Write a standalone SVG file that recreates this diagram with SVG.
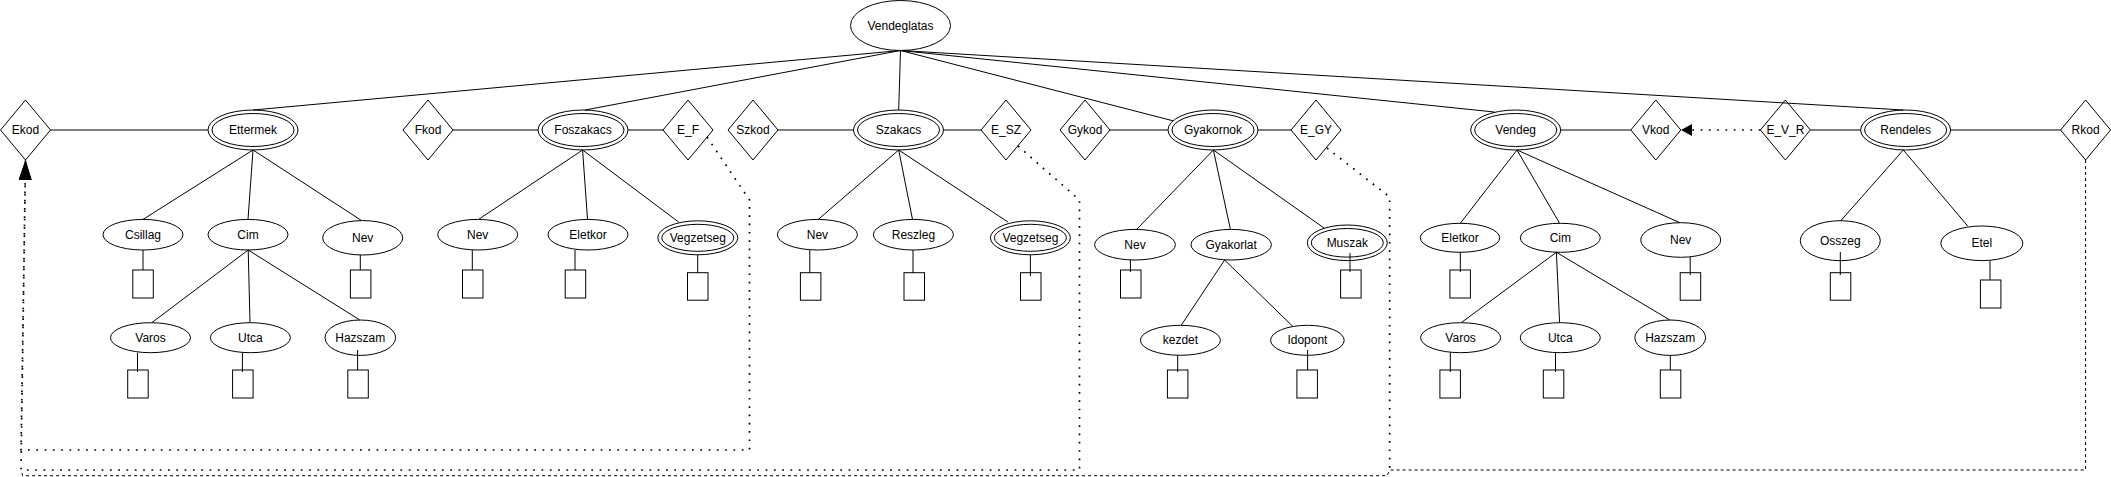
<svg xmlns="http://www.w3.org/2000/svg" width="2111" height="477" viewBox="0 0 2111 477">
<style>
.n{fill:#fff;stroke:#000;stroke-width:1}
.t{font-family:"Liberation Sans",Arial,sans-serif;font-size:12px;text-anchor:middle;fill:#000}
.e{stroke:#000;stroke-width:1;fill:none}
.dot{stroke:#000;stroke-width:1.7;stroke-dasharray:1.7 6.6;fill:none}
.dash{stroke:#000;stroke-width:1;stroke-dasharray:3 3;fill:none}
</style>
<defs>
<marker id="bigArrow" viewBox="0 0 20 13" refX="20" refY="6.5" markerWidth="20" markerHeight="13" markerUnits="userSpaceOnUse" orient="auto"><path d="M0,0 L20,6.5 L0,13 Z" fill="#000"/></marker>
<marker id="smallArrow" viewBox="0 0 11 12" refX="11" refY="6" markerWidth="11" markerHeight="12" markerUnits="userSpaceOnUse" orient="auto"><path d="M0,0 L11,6 L0,12 Z" fill="#000"/></marker>
</defs>
<rect width="2111" height="477" fill="#fff"/>

<g id="Vendeglatas"><ellipse class="n" cx="900.5" cy="25.5" rx="50" ry="25"/><text class="t" x="900.5" y="29.5">Vendeglatas</text></g>

<g id="Ekod"><polygon class="n" points="0.5,130 25.5,100 50.5,130 25.5,160"/><text class="t" x="25.5" y="134">Ekod</text></g>
<g id="Ettermek"><ellipse class="n" cx="253" cy="130" rx="45" ry="20"/><ellipse class="n" cx="253" cy="130" rx="41" ry="16.5"/><text class="t" x="253" y="134">Ettermek</text></g>
<g id="Fkod"><polygon class="n" points="403,130 428,100 453,130 428,160"/><text class="t" x="428" y="134">Fkod</text></g>
<g id="Foszakacs"><ellipse class="n" cx="583" cy="130" rx="45" ry="20"/><ellipse class="n" cx="583" cy="130" rx="41" ry="16.5"/><text class="t" x="583" y="134">Foszakacs</text></g>
<g id="E_F"><polygon class="n" points="663,130 688,100 713,130 688,160"/><text class="t" x="688" y="134">E_F</text></g>
<g id="Szkod"><polygon class="n" points="728,130 753,100 778,130 753,160"/><text class="t" x="753" y="134">Szkod</text></g>
<g id="Szakacs"><ellipse class="n" cx="898.5" cy="130" rx="45" ry="20"/><ellipse class="n" cx="898.5" cy="130" rx="41" ry="16.5"/><text class="t" x="898.5" y="134">Szakacs</text></g>
<g id="E_SZ"><polygon class="n" points="981,130 1006,100 1031,130 1006,160"/><text class="t" x="1006" y="134">E_SZ</text></g>
<g id="Gykod"><polygon class="n" points="1060,130 1085,100 1110,130 1085,160"/><text class="t" x="1085" y="134">Gykod</text></g>
<g id="Gyakornok"><ellipse class="n" cx="1213" cy="130" rx="45" ry="20"/><ellipse class="n" cx="1213" cy="130" rx="41" ry="16.5"/><text class="t" x="1213" y="134">Gyakornok</text></g>
<g id="E_GY"><polygon class="n" points="1291,130 1316,100 1341,130 1316,160"/><text class="t" x="1316" y="134">E_GY</text></g>
<g id="Vendeg"><ellipse class="n" cx="1515.7" cy="130" rx="45" ry="20"/><ellipse class="n" cx="1515.7" cy="130" rx="41" ry="16.5"/><text class="t" x="1515.7" y="134">Vendeg</text></g>
<g id="Vkod"><polygon class="n" points="1630.8,130 1655.8,100 1680.8,130 1655.8,160"/><text class="t" x="1655.8" y="134">Vkod</text></g>
<g id="E_V_R"><polygon class="n" points="1760.4,130 1785.4,100 1810.4,130 1785.4,160"/><text class="t" x="1785.4" y="134">E_V_R</text></g>
<g id="Rendeles"><ellipse class="n" cx="1905.6" cy="130" rx="45" ry="20"/><ellipse class="n" cx="1905.6" cy="130" rx="41" ry="16.5"/><text class="t" x="1905.6" y="134">Rendeles</text></g>
<g id="Rkod"><polygon class="n" points="2060.6,130 2085.6,100 2110.6,130 2085.6,160"/><text class="t" x="2085.6" y="134">Rkod</text></g>

<!-- Ettermek attributes -->
<g id="Ett_Csillag"><ellipse class="n" cx="143" cy="234.7" rx="40" ry="15.3"/><text class="t" x="143" y="238.7">Csillag</text><rect class="n" x="132.8" y="270" width="20.5" height="28"/></g>
<g id="Ett_Cim"><ellipse class="n" cx="248" cy="234.7" rx="40" ry="15.3"/><text class="t" x="248" y="238.7">Cim</text></g>
<g id="Ett_Nev"><ellipse class="n" cx="362.7" cy="237.8" rx="40" ry="17.2"/><text class="t" x="362.7" y="241.8">Nev</text><rect class="n" x="350.4" y="270" width="20.5" height="28"/></g>
<g id="Ett_Varos"><ellipse class="n" cx="150.5" cy="337.7" rx="40" ry="15"/><text class="t" x="150.5" y="341.7">Varos</text><rect class="n" x="127.7" y="370" width="20.5" height="28"/></g>
<g id="Ett_Utca"><ellipse class="n" cx="250.4" cy="337.7" rx="40" ry="15"/><text class="t" x="250.4" y="341.7">Utca</text><rect class="n" x="232.6" y="370" width="20.5" height="28"/></g>
<g id="Ett_Hazszam"><ellipse class="n" cx="360.3" cy="337.7" rx="35.3" ry="17.7"/><text class="t" x="360.3" y="341.7">Hazszam</text><rect class="n" x="347.8" y="370" width="20.5" height="28"/></g>

<!-- Foszakacs attributes -->
<g id="Fo_Nev"><ellipse class="n" cx="477.7" cy="234.7" rx="40" ry="15.3"/><text class="t" x="477.7" y="238.7">Nev</text><rect class="n" x="462.5" y="270" width="20.5" height="28"/></g>
<g id="Fo_Eletkor"><ellipse class="n" cx="588" cy="234.7" rx="40" ry="15.3"/><text class="t" x="588" y="238.7">Eletkor</text><rect class="n" x="565.2" y="270" width="20.5" height="28"/></g>
<g id="Fo_Vegzetseg"><ellipse class="n" cx="697.8" cy="237.8" rx="40" ry="17"/><ellipse class="n" cx="697.8" cy="237.8" rx="36" ry="13.5"/><text class="t" x="697.8" y="241.8">Vegzetseg</text><rect class="n" x="687.5" y="272.7" width="20.5" height="27.5"/></g>

<!-- Szakacs attributes -->
<g id="Sz_Nev"><ellipse class="n" cx="817.4" cy="234.7" rx="40" ry="15.3"/><text class="t" x="817.4" y="238.7">Nev</text><rect class="n" x="800.4" y="272.7" width="20.5" height="27.5"/></g>
<g id="Sz_Reszleg"><ellipse class="n" cx="913.4" cy="234.7" rx="40" ry="15.3"/><text class="t" x="913.4" y="238.7">Reszleg</text><rect class="n" x="904" y="272.7" width="20.5" height="27.5"/></g>
<g id="Sz_Vegzetseg"><ellipse class="n" cx="1030.4" cy="237.8" rx="40" ry="17"/><ellipse class="n" cx="1030.4" cy="237.8" rx="36" ry="13.5"/><text class="t" x="1030.4" y="241.8">Vegzetseg</text><rect class="n" x="1020.5" y="272.7" width="20.5" height="27.5"/></g>

<!-- Gyakornok attributes -->
<g id="Gy_Nev"><ellipse class="n" cx="1135" cy="244.7" rx="40.4" ry="15.3"/><text class="t" x="1135" y="248.7">Nev</text><rect class="n" x="1120.5" y="270" width="20.5" height="28"/></g>
<g id="Gy_Gyakorlat"><ellipse class="n" cx="1231.2" cy="244.7" rx="40.2" ry="15.3"/><text class="t" x="1231.2" y="248.7">Gyakorlat</text></g>
<g id="Gy_Muszak"><ellipse class="n" cx="1347.3" cy="242.8" rx="40" ry="17.8"/><ellipse class="n" cx="1347.3" cy="242.8" rx="36" ry="14.3"/><text class="t" x="1347.3" y="246.8">Muszak</text><rect class="n" x="1340.6" y="270" width="20.5" height="28"/></g>
<g id="Gy_kezdet"><ellipse class="n" cx="1180.4" cy="340.3" rx="40" ry="15"/><text class="t" x="1180.4" y="344.3">kezdet</text><rect class="n" x="1167.4" y="370" width="20.5" height="28"/></g>
<g id="Gy_Idopont"><ellipse class="n" cx="1307.4" cy="340.3" rx="36.8" ry="15"/><text class="t" x="1307.4" y="344.3">Idopont</text><rect class="n" x="1296.9" y="370" width="20.5" height="28"/></g>

<!-- Vendeg attributes -->
<g id="Ve_Eletkor"><ellipse class="n" cx="1460" cy="237.8" rx="39.7" ry="14.5"/><text class="t" x="1460" y="241.8">Eletkor</text><rect class="n" x="1449.9" y="270" width="20.5" height="28"/></g>
<g id="Ve_Cim"><ellipse class="n" cx="1560.3" cy="237.8" rx="40" ry="14.5"/><text class="t" x="1560.3" y="241.8">Cim</text></g>
<g id="Ve_Nev"><ellipse class="n" cx="1680.7" cy="240" rx="40" ry="17.3"/><text class="t" x="1680.7" y="244">Nev</text><rect class="n" x="1680.2" y="272.7" width="20.5" height="27.5"/></g>
<g id="Ve_Varos"><ellipse class="n" cx="1460.6" cy="337.7" rx="40" ry="15"/><text class="t" x="1460.6" y="341.7">Varos</text><rect class="n" x="1439.9" y="370" width="20.5" height="28"/></g>
<g id="Ve_Utca"><ellipse class="n" cx="1560.3" cy="337.7" rx="40" ry="15"/><text class="t" x="1560.3" y="341.7">Utca</text><rect class="n" x="1543.3" y="370" width="20.5" height="28"/></g>
<g id="Ve_Hazszam"><ellipse class="n" cx="1670.2" cy="337.7" rx="35.4" ry="17.7"/><text class="t" x="1670.2" y="341.7">Hazszam</text><rect class="n" x="1660.3" y="370" width="20.5" height="28"/></g>

<!-- Rendeles attributes -->
<g id="Re_Osszeg"><ellipse class="n" cx="1840.3" cy="240.7" rx="40" ry="20"/><text class="t" x="1840.3" y="244.7">Osszeg</text><rect class="n" x="1830.3" y="272.7" width="20.5" height="27.5"/></g>
<g id="Re_Etel"><ellipse class="n" cx="1981.8" cy="243.3" rx="41" ry="17.3"/><text class="t" x="1981.8" y="247.3">Etel</text><rect class="n" x="1980.4" y="280" width="20.5" height="28"/></g>

<g id="connectors">
<path class="e" d="M900.5,50.5 L253,110 M900.5,50.5 L585,110 M900.5,50.5 L898.7,110 M900.5,50.5 L1173,120.8 M900.5,50.5 L1494.3,112 M900.5,50.5 L1903.3,110"/>
<path class="e" d="M50.5,130 H208 M453,130 H538 M628,130 H663 M778,130 H853.5 M943.5,130 H981 M1110,130 H1168 M1258,130 H1291 M1560.7,130 H1630.8 M1810.4,130 H1860.6 M1950.6,130 H2060.6"/>
<path class="e" d="M253,150 L143,219.4 M253,150 L248,219.4 M253,150 L361.6,220.6 M248.2,250 L151.8,322.7 M248.2,250 L250,322.7 M248.2,250 L359.8,320 M143,250 V270 M360.3,255 V270 M137.5,352.7 V372 M242.4,352.7 V372 M357.6,350 V370"/>
<path class="e" d="M582.6,150 L478.6,219.4 M582.6,150 L587.5,219.4 M582.6,150 L678.6,222 M472.3,250 V270 M575,250 V270 M697.7,254.8 V273"/>
<path class="e" d="M898.7,150 L818.3,219.4 M898.7,150 L912.5,219.4 M898.7,150 L1008,222 M809.8,250 V273 M913,250 V273 M1030.4,254.8 V276"/>
<path class="e" d="M1213.4,150 L1136.6,229.4 M1213.4,150 L1230.4,229.4 M1213.4,150 L1324,228 M1130.4,260 V272 M1350,253 V272 M1224.6,260 L1181.2,325.3 M1224.6,260 L1292.9,326.5 M1177.7,355.3 V372 M1307.6,350 V370"/>
<path class="e" d="M1517,150 L1460.3,223.3 M1517,150 L1559.6,223.3 M1517,150 L1679.8,222.7 M1556.4,252.3 L1461.2,322.7 M1556.4,252.3 L1559.6,322.7 M1556.4,252.3 L1669.8,320 M1460.3,252.3 V272 M1690.2,257 V275 M1450.3,352.7 V372 M1555.5,352.7 V372 M1670.3,355 V370"/>
<path class="e" d="M1903.3,150 L1840.8,220.7 M1903.3,150 L1967.7,226 M1840.3,252 V275 M1990,260.6 V280"/>
<path class="dot" d="M1760.4,130 H1681" marker-end="url(#smallArrow)"/>
<path class="dot" d="M707,137 L749.5,200 V450 H21 L25.5,160" marker-end="url(#bigArrow)"/>
<path class="dot" d="M1018,146 L1079.5,200 V470 H21 L25.5,160" marker-end="url(#bigArrow)"/>
<path class="dot" d="M1327,148 L1389.7,197 V470"/>
<path class="dash" d="M2085.6,160 V470 H1390 L1387,475.7 H22.7 L21,470"/>
</g>
</svg>
